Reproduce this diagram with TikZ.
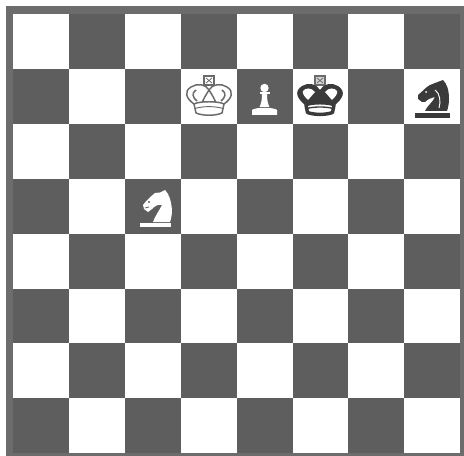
\documentclass[tikz,border=0pt]{standalone}
\definecolor{darksq}{HTML}{5E5E5E}
\definecolor{frame}{HTML}{6C6C6C}
\definecolor{inkgray}{HTML}{6A6A6A}
\definecolor{inkdark}{HTML}{3A3A3A}
\tikzset{
  x=0.75pt,y=-0.75pt,
  lightsq/.style={fill=white},
  darkfill/.style={fill=darksq},
  crownline/.style={draw=inkgray,fill=white,line width=1.1pt,line join=round},
  crownthin/.style={draw=inkgray,line width=0.7pt},
  blackline/.style={draw=inkdark,fill=white,line width=2.6pt,line join=round},
  blackthin/.style={draw=inkdark,line width=1pt},
  crossbox/.style={draw=inkgray,line width=0.8pt},
  crossmark/.style={draw=inkgray,line width=0.6pt},
}
\begin{document}
\begin{tikzpicture}
\useasboundingbox (0,0) rectangle (464,456);
\fill[white] (0,0) rectangle (464,456);
\fill[frame] (6,6) rectangle (464,456);
% board
\foreach \c in {0,...,7}{
  \foreach \r in {0,...,7}{
    \pgfmathsetmacro{\xa}{13+55.9*\c}
    \pgfmathsetmacro{\ya}{14+54.9*\r}
    \pgfmathsetmacro{\xb}{13+55.9*(\c+1)}
    \pgfmathsetmacro{\yb}{14+54.9*(\r+1)}
    \pgfmathtruncatemacro{\parity}{mod(\c+\r,2)}
    \ifnum\parity=0
      \fill[lightsq] (\xa,\ya) rectangle (\xb,\yb);
    \else
      \fill[darkfill] (\xa,\ya) rectangle (\xb,\yb);
    \fi
  }
}
% white king
\begin{scope}[shift={(209,96)}]
  \path[crossbox,fill=white] (-5,-20) rectangle (5,-11);
  \path[crossmark] (-3,-18) -- (3,-13) (3,-18) -- (-3,-13);
  \path[crownline] (0,-6) .. controls (-3,-12) and (-12,-13) .. (-18,-9)
     .. controls (-26,-4) and (-22,3) .. (-15,8) -- (15,8)
     .. controls (22,3) and (26,-4) .. (18,-9)
     .. controls (12,-13) and (3,-12) .. (0,-6) -- cycle;
  \path[crownline] (-13,-6) .. controls (-18,-3) and (-16,2) .. (-12,5);
  \path[crownline] (13,-6) .. controls (18,-3) and (16,2) .. (12,5);
  \path[crownline] (0,-6) .. controls (-3,-1) and (-6,3) .. (-7,8);
  \path[crownline] (0,-6) .. controls (3,-1) and (6,3) .. (7,8);
  \path[crownline] (-15,8) .. controls (-10,5) and (10,5) .. (15,8)
     -- (13,17) .. controls (6,20) and (-6,20) .. (-13,17) -- cycle;
  \path[crownthin] (-14,12.5) .. controls (-6,10) and (6,10) .. (14,12.5);
\end{scope}
% white pawn
\begin{scope}[shift={(264.5,96)}]
  \fill[white] (0,-8) circle (4.2);
  \fill[white] (-5,-3.5) rectangle (5,-1.5);
  \fill[white] (-2.5,-2) -- (2.5,-2) .. controls (2.5,5) and (3.5,8) .. (5,11)
     -- (-5,11) .. controls (-3.5,8) and (-2.5,5) .. (-2.5,-2) -- cycle;
  \fill[white] (-12.5,14) .. controls (-9,11) and (9,11) .. (12.5,14)
     -- (12.5,19) -- (-12.5,19) -- cycle;
\end{scope}
% black king
\begin{scope}[shift={(320,96)}]
  \path[crossbox,fill=white!70!inkgray] (-5,-20) rectangle (5,-11);
  \path[crossmark] (-3,-18) -- (3,-13) (3,-18) -- (-3,-13);
  \fill[inkdark] (0,-6) .. controls (-3,-12) and (-12,-14) .. (-18,-10)
     .. controls (-27,-4) and (-22,3) .. (-15,9) -- (15,9)
     .. controls (22,3) and (27,-4) .. (18,-10)
     .. controls (12,-14) and (3,-12) .. (0,-6) -- cycle;
  \fill[white] (-5,-4) .. controls (-9,-9) and (-15,-8) .. (-17,-5)
     .. controls (-18,-2) and (-15,1) .. (-12,4) .. controls (-10,1) and (-7,-1) .. (-5,-4) -- cycle;
  \fill[white] (5,-4) .. controls (9,-9) and (15,-8) .. (17,-5)
     .. controls (18,-2) and (15,1) .. (12,4) .. controls (10,1) and (7,-1) .. (5,-4) -- cycle;
  \path[blackline] (-14,9) .. controls (-10,6) and (10,6) .. (14,9)
     -- (12.5,16.5) .. controls (6,19) and (-6,19) .. (-12.5,16.5) -- cycle;
  \path[blackthin] (-13,12.5) .. controls (-6,10.5) and (6,10.5) .. (13,12.5);
\end{scope}
% white knight
\begin{scope}[shift={(153,206)}]
  \fill[white] (12,-16) .. controls (16,-12) and (18,-6) .. (19,4)
     .. controls (19,9) and (18,13) .. (17,16) -- (0,16)
     .. controls (1,12) and (6,5) .. (9,-1)
     .. controls (5,-2) and (2,0) .. (-1,3) -- (-5,6) -- (-9,3) -- (-10,-1)
     .. controls (-7,-5) and (-3,-9) .. (2,-13) -- (7,-13.5) -- cycle;
  \fill[darksq] (-4,-4) circle (1.1);
  \draw[darksq,line width=0.6pt] (-8,2) -- (-4,1);
  \fill[white] (-13,17) rectangle (18,20.5);
\end{scope}
% black knight
\begin{scope}[shift={(432,96)}]
  \fill[inkdark] (11,-16) .. controls (15,-12) and (17,-6) .. (17,3)
     .. controls (17,8) and (16,12) .. (15,15) -- (-7,15)
     .. controls (-5,10) and (1,6) .. (3,1)
     .. controls (-1,2) and (-4,3) .. (-7,6) -- (-10,6) -- (-14,3) -- (-14,-1)
     .. controls (-9,-5) and (-6,-9) .. (-2,-11) -- (3,-13) -- cycle;
  \fill[white] (-6,-4) circle (1);
  \draw[white,line width=0.7pt] (3,-6) .. controls (8,-3) and (9,6) .. (7,12);
  \fill[inkdark] (-17,17) rectangle (18,22);
\end{scope}
\end{tikzpicture}
\end{document}
